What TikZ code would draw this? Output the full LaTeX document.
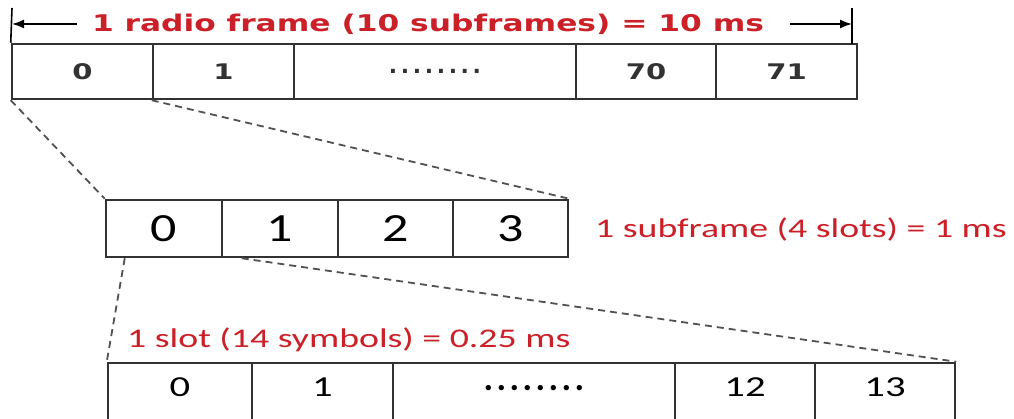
\documentclass[tikz,border=0pt]{standalone}
\usepackage{fontspec}
\usepackage{graphicx}
\setmainfont{Carlito}
\newfontfamily\dejavu{DejaVu Sans}
\usetikzlibrary{arrows.meta,calc}
\definecolor{lblred}{RGB}{204,32,40}
\definecolor{boxgray}{RGB}{50,50,50}
\newcommand{\wide}[2]{\scalebox{#1}[1]{#2}}
\newcommand{\tdots}{{\fontsize{22}{24}\selectfont.\kern3.6pt.\kern3.6pt.\kern3.6pt.\kern3.6pt.\kern3.6pt.\kern3.6pt.\kern3.6pt.}}
\newcommand{\bdots}{{\bfseries\fontsize{36}{38}\selectfont.\kern3.4pt.\kern3.4pt.\kern3.4pt.\kern3.4pt.\kern3.4pt.\kern3.4pt.\kern3.4pt.}}
\begin{document}
\begin{tikzpicture}[x=1pt,y=-1pt,
  cell/.style={draw=boxgray,line width=2.5pt,inner sep=0pt,rectangle},
  tcell/.style={cell,minimum width=#1,minimum height=55,font=\dejavu\bfseries\fontsize{21.5}{23}\selectfont,text=boxgray},
  mcell/.style={cell,minimum width=#1,minimum height=57,font=\fontsize{40}{44}\selectfont},
  bcell/.style={cell,minimum width=#1,minimum height=57,font=\fontsize{29}{32}\selectfont},
  lbl/.style={text=lblred,inner sep=0pt,font=\fontsize{27}{30}\selectfont},
  zoomline/.style={dash pattern=on 7pt off 5pt,line width=1.8pt,draw=boxgray!85},
  tick/.style={line width=1.6pt,draw=black},
  tip/.style={-{Latex[length=12pt,width=9pt]}}]
\useasboundingbox (0,0) rectangle (1014,419);
\clip (0,0) rectangle (1014,419);
\fill[white] (0,0) rectangle (1014,419);
% top row
\node[tcell=141] (t0) at (82.5,71.5) {\wide{1.35}{0}};
\node[tcell=141] (t1) at (223.5,71.5) {\wide{1.35}{1}};
\node[tcell=282] (t2) at (435,71.5) {\raisebox{1pt}{\tdots}};
\node[tcell=140] (t3) at (646,71.5) {\wide{1.35}{70}};
\node[tcell=141] (t4) at (786.5,71.5) {\wide{1.35}{71}};
% middle row
\node[mcell=116] (m0) at (164,228.5) {\wide{1.3}{0}};
\node[mcell=116] (m1) at (280,228.5) {\wide{1.3}{1}};
\node[mcell=115] (m2) at (395.5,228.5) {\wide{1.3}{2}};
\node[mcell=115] (m3) at (510.5,228.5) {\wide{1.3}{3}};
% bottom row
\node[bcell=144] (b0) at (180,391.5) {\raisebox{8pt}{\wide{1.4}{0}}};
\node[bcell=141] (b1) at (322.5,391.5) {\raisebox{8pt}{\wide{1.4}{1}}};
\node[bcell=282] (b2) at (534,391.5) {\raisebox{8pt}{\bdots}};
\node[bcell=140] (b3) at (745,391.5) {\raisebox{8pt}{\wide{1.4}{12}}};
\node[bcell=140] (b4) at (885,391.5) {\raisebox{8pt}{\wide{1.4}{13}}};
% labels
\node[lbl] (title) at (428,24) {\dejavu\bfseries\fontsize{23}{26}\selectfont\wide{1.36}{1 radio frame (10 subframes) = 10 ms}};
\node[lbl,anchor=west] (sub) at (595,229) {\wide{1.4}{1 subframe (4 slots) = 1 ms}};
\node[lbl,anchor=west] (slot) at (127,340) {\wide{1.4}{1 slot (14 symbols) = 0.25 ms}};
% span arrows
\coordinate (tl) at (12,24);
\coordinate (tr) at (852,24);
\coordinate (tltop) at (12,8);
\coordinate (trtop) at (852,8);
\coordinate (trbot) at (852,44);
\draw[tick] (tltop) -- (t0.north west);
\draw[tick] (trtop) -- (trbot);
\draw[tick,tip] ([xshift=-15pt]title.west) -- (tl);
\draw[tick,tip] ([xshift=26pt]title.east) -- (tr);
% zoom lines
\coordinate (m0a) at ($(m0.south west)+(20,0)$);
\coordinate (m1a) at ($(m1.south west)+(21,0)$);
\draw[zoomline] (t0.south west) -- (m0.north west);
\draw[zoomline] (t1.south west) -- (m3.north east);
\draw[zoomline] (m0a) -- (b0.north west);
\draw[zoomline] (m1a) -- (b4.north east);
\end{tikzpicture}
\end{document}
